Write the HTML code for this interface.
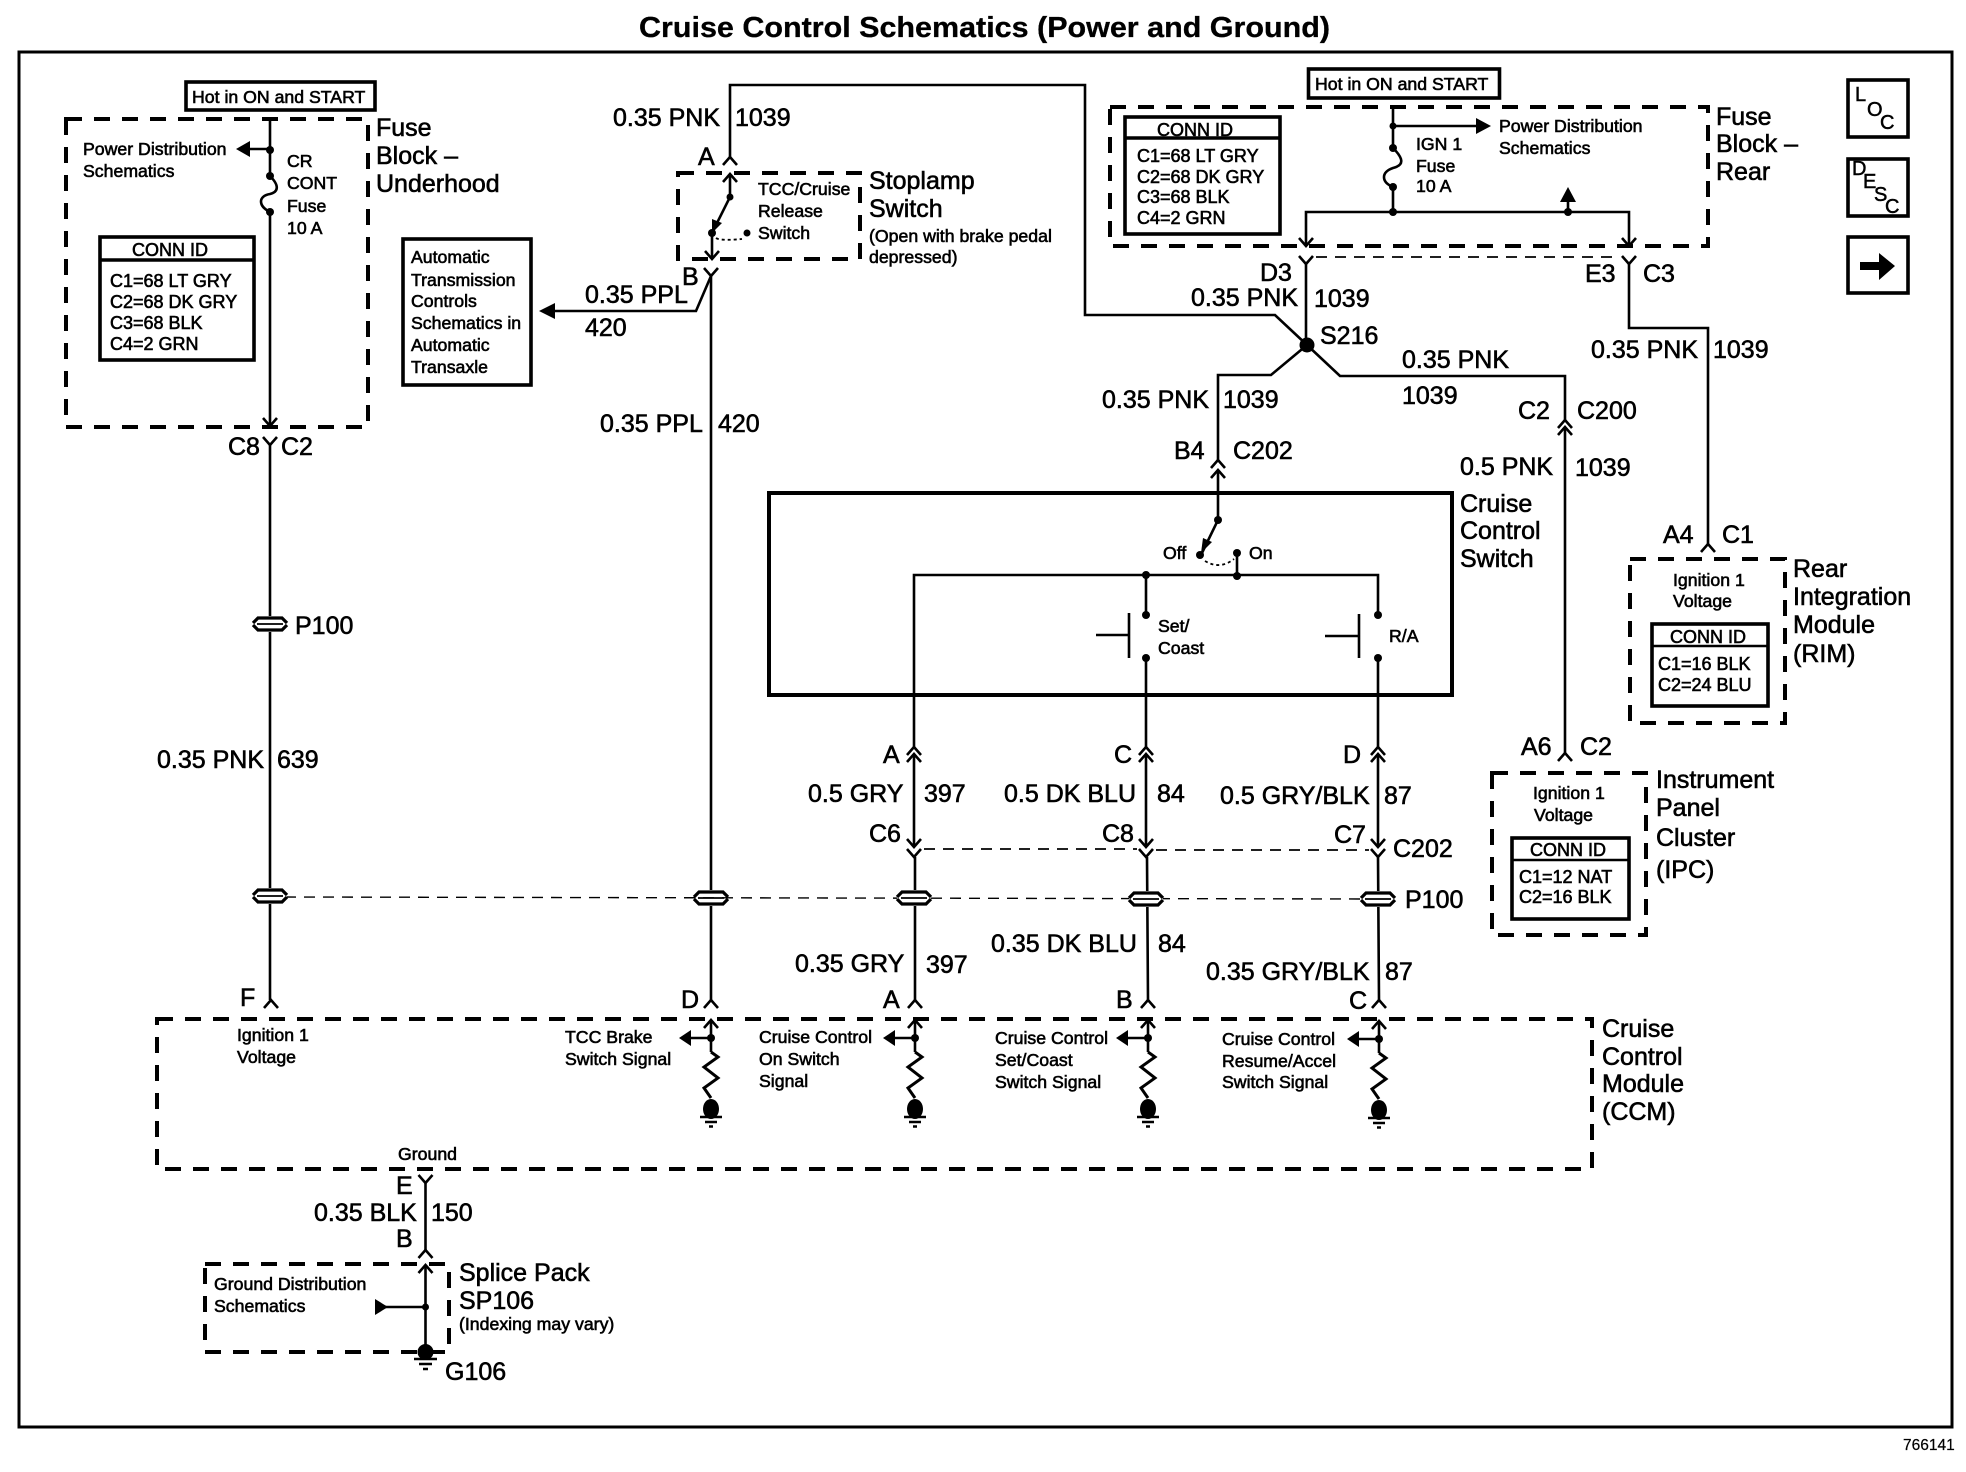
<!DOCTYPE html>
<html><head><meta charset="utf-8"><title>Cruise Control Schematics</title>
<style>
html,body{margin:0;padding:0;background:#fff}
svg{display:block}
text{font-family:"Liberation Sans",Arial,sans-serif;fill:#000;stroke:#000}
.l{font-size:25px;stroke-width:.6}
.s{font-size:17.7px;stroke-width:.6}
.c{font-size:18px;stroke-width:.6}
.g{font-size:20px;stroke-width:.5}
.w{fill:none;stroke:#000;stroke-width:2.6}
.b{fill:none;stroke:#000;stroke-width:3.6}
.d{fill:none;stroke:#000;stroke-width:4;stroke-dasharray:16 12}
.t{fill:none;stroke:#000;stroke-width:1.8;stroke-dasharray:11 8}
.k{fill:#000;stroke:none}
</style></head><body>
<svg width="1966" height="1472" viewBox="0 0 1966 1472" xmlns="http://www.w3.org/2000/svg">
<defs>
<g id="up"><path class="w" d="M-7,8 L0,0 L7,8"/></g>
<g id="dn"><path class="w" d="M-7,-8 L0,0 L7,-8"/></g>
<g id="y"><path class="w" d="M-7,-7 L0,1 L7,-7"/></g>
<g id="p100">
<rect x="-17" y="-8" width="34" height="16" fill="#fff"/>
<path fill="none" stroke="#000" stroke-width="3.2" d="M-17,-1 L-12,-6 L12,-6 L17,-1 M-17,1 L-12,6 L12,6 L17,1"/>
<path fill="none" stroke="#000" stroke-width="1.8" d="M-13,0 L13,0"/>
</g>
<g id="sig">
<path class="w" d="M0,-18 L0,14"/>
<path class="w" d="M-7,-10 L0,-18 L7,-10"/>
<circle class="k" cx="0" cy="0" r="4"/>
<path class="w" d="M-22,0 L0,0"/>
<path class="k" d="M-32,0 L-20,-8 L-20,8 Z"/>
<path fill="none" stroke="#000" stroke-width="3" d="M0,14 L7,19 L-7,29 L7,40 L-7,50 L0,60"/>
<ellipse class="k" cx="0" cy="71" rx="8" ry="10"/>
<path class="w" d="M-11,79 L11,79 M-6,84 L6,84 M-2,88.500 L2,88.500"/>
</g>
</defs>

<text x="639" y="37" font-size="29" font-weight="bold" textLength="691" lengthAdjust="spacingAndGlyphs" stroke-width=".3">Cruise Control Schematics (Power and Ground)</text>
<rect x="19" y="52" width="1933" height="1375" fill="none" stroke="#000" stroke-width="3"/>

<!-- Fuse block underhood -->
<rect x="186" y="82" width="189" height="28" class="b"/>
<text class="s" x="192" y="103">Hot in ON and START</text>
<rect x="66" y="119" width="302" height="308" class="d"/>
<path class="w" d="M270,119 L270,176 M270,212 L270,425"/>
<path class="w" d="M270,176 C280,186 278,192 270,194 C258,196 258,206 270,212"/>
<circle class="k" cx="270" cy="150" r="4"/><circle class="k" cx="270" cy="176" r="4"/><circle class="k" cx="270" cy="212" r="4"/>
<path class="w" d="M248,149 L270,149"/><path class="k" d="M236,149 L250,141 L250,157 Z"/>
<use href="#dn" x="270" y="426"/><use href="#y" x="270" y="444"/>
<text class="s" x="83" y="155">Power Distribution</text>
<text class="s" x="83" y="177">Schematics</text>
<text class="s" x="287" y="167">CR</text><text class="s" x="287" y="189">CONT</text>
<text class="s" x="287" y="212">Fuse</text><text class="s" x="287" y="234">10 A</text>
<rect x="100" y="237" width="154" height="123" class="b"/><path class="b" d="M100,260 L254,260"/>
<text class="c" x="132" y="256">CONN ID</text>
<text class="c" x="110" y="287">C1=68 LT GRY</text><text class="c" x="110" y="308">C2=68 DK GRY</text>
<text class="c" x="110" y="329">C3=68 BLK</text><text class="c" x="110" y="350">C4=2 GRN</text>
<text class="l" x="376" y="136">Fuse</text><text class="l" x="376" y="164">Block –</text><text class="l" x="376" y="192">Underhood</text>
<text class="l" x="228" y="455">C8</text><text class="l" x="281" y="455">C2</text>

<!-- Auto transmission box -->
<rect x="403" y="239" width="128" height="146" class="b"/>
<text class="s" x="411" y="263">Automatic</text><text class="s" x="411" y="286">Transmission</text>
<text class="s" x="411" y="307">Controls</text><text class="s" x="411" y="329">Schematics in</text>
<text class="s" x="411" y="351">Automatic</text><text class="s" x="411" y="373">Transaxle</text>
<path class="w" d="M711,276 L696,311 L550,311"/><path class="k" d="M539,311 L555,303 L555,319 Z"/>
<text class="l" x="585" y="303">0.35 PPL</text><text class="l" x="585" y="336">420</text>
<text class="l" x="600" y="432">0.35 PPL</text><text class="l" x="718" y="432">420</text>

<!-- Left wires -->
<path class="w" d="M270,445 L270,1000"/>
<use href="#p100" x="270" y="624"/>
<text class="l" x="295" y="634">P100</text>
<text class="l" x="157" y="768">0.35 PNK</text><text class="l" x="277" y="768">639</text>

<!-- Stoplamp switch -->
<text class="l" x="613" y="126">0.35 PNK</text><text class="l" x="735" y="126">1039</text>
<path class="w" d="M730,157 L730,85 L1085,85 L1085,315 L1275,315 L1307,345"/>
<use href="#up" x="730" y="157"/><text class="l" x="698" y="165">A</text>
<rect x="678" y="173" width="182" height="86" class="d"/>
<use href="#up" x="730" y="174"/>
<path class="w" d="M730,174 L730,197 L712,233 L712,258"/>
<path class="k" d="M712,233 L712,219 L722,223 Z"/>
<use href="#dn" x="712" y="259"/>
<circle class="k" cx="730" cy="197" r="3.500"/><circle class="k" cx="712" cy="233" r="4"/><circle class="k" cx="747" cy="233" r="3.500"/>
<path fill="none" stroke="#000" stroke-width="1.8" stroke-dasharray="3 3" d="M716,238 Q720,241 742,239"/>
<text class="s" x="758" y="195">TCC/Cruise</text><text class="s" x="758" y="217">Release</text><text class="s" x="758" y="239">Switch</text>
<text class="l" x="869" y="189">Stoplamp</text><text class="l" x="869" y="217">Switch</text>
<text class="s" x="869" y="242">(Open with brake pedal</text><text class="s" x="869" y="263">depressed)</text>
<use href="#y" x="711" y="275"/><text class="l" x="682" y="285">B</text>
<path class="w" d="M711,276 L711,1000"/>
<use href="#p100" x="711" y="898"/>

<!-- Fuse block rear -->
<rect x="1308.500" y="69" width="191" height="29" class="b"/>
<text class="s" x="1315" y="90">Hot in ON and START</text>
<rect x="1110" y="107" width="598" height="139" class="d"/>
<rect x="1125" y="117" width="155" height="117" class="b"/><path class="b" d="M1125,138 L1280,138"/>
<text class="c" x="1157" y="136">CONN ID</text>
<text class="c" x="1137" y="162">C1=68 LT GRY</text><text class="c" x="1137" y="183">C2=68 DK GRY</text>
<text class="c" x="1137" y="203">C3=68 BLK</text><text class="c" x="1137" y="224">C4=2 GRN</text>
<path class="w" d="M1393,107 L1393,148 M1393,187 L1393,212 M1306,245 L1306,212 L1629,212 L1629,245"/>
<path class="w" d="M1393,148 C1403,158 1405,165 1393,168 C1381,172 1381,182 1393,187"/>
<circle class="k" cx="1393" cy="126" r="3.500"/><circle class="k" cx="1393" cy="148" r="4"/><circle class="k" cx="1393" cy="187" r="4"/>
<circle class="k" cx="1393" cy="212" r="4"/><circle class="k" cx="1568" cy="212" r="4"/>
<path class="w" d="M1393,126 L1480,126"/><path class="k" d="M1491,126 L1476,118 L1476,134 Z"/>
<path class="w" d="M1568,212 L1568,198"/><path class="k" d="M1568,187 L1560,202 L1576,202 Z"/>
<use href="#dn" x="1306" y="246"/><use href="#dn" x="1629" y="246"/>
<text class="s" x="1499" y="132">Power Distribution</text><text class="s" x="1499" y="154">Schematics</text>
<text class="s" x="1416" y="150">IGN 1</text><text class="s" x="1416" y="172">Fuse</text><text class="s" x="1416" y="192">10 A</text>
<text class="l" x="1716" y="125">Fuse</text><text class="l" x="1716" y="152">Block –</text><text class="l" x="1716" y="180">Rear</text>

<!-- LOC DESC arrow -->
<rect x="1848" y="80" width="60" height="57" class="b"/>
<text class="g" x="1855" y="101">L</text><text class="g" x="1867" y="116">O</text><text class="g" x="1880" y="129">C</text>
<rect x="1848" y="159" width="60" height="57" class="b"/>
<text class="g" x="1852" y="175">D</text><text class="g" x="1863" y="188">E</text><text class="g" x="1874" y="201">S</text><text class="g" x="1885" y="213">C</text>
<rect x="1848" y="237" width="60" height="56" class="b"/>
<path class="k" d="M1860,262 L1879,262 L1879,253 L1895,266 L1879,280 L1879,270 L1860,270 Z"/>

<!-- Top connectors and S216 -->
<path class="t" d="M1316,257 L1620,257"/>
<use href="#y" x="1306" y="263"/><use href="#y" x="1629" y="263"/>
<path class="w" d="M1306,264 L1306,345"/>
<path class="w" d="M1629,264 L1629,328 L1708,328 L1708,545"/>
<text class="l" x="1260" y="281">D3</text><text class="l" x="1585" y="282">E3</text><text class="l" x="1643" y="282">C3</text>
<text class="l" x="1191" y="306">0.35 PNK</text><text class="l" x="1314" y="307">1039</text>
<circle class="k" cx="1307" cy="345" r="7.500"/>
<text class="l" x="1320" y="344">S216</text>
<path class="w" d="M1307,345 L1340,376 L1565,376 L1565,420"/>
<path class="w" d="M1307,345 L1271,375 L1218,375 L1218,460"/>
<text class="l" x="1402" y="368">0.35 PNK</text><text class="l" x="1402" y="404">1039</text>
<text class="l" x="1591" y="358">0.35 PNK</text><text class="l" x="1713" y="358">1039</text>
<text class="l" x="1102" y="408">0.35 PNK</text><text class="l" x="1223" y="408">1039</text>
<text class="l" x="1518" y="419">C2</text><text class="l" x="1577" y="419">C200</text>
<use href="#up" x="1565" y="420"/><use href="#up" x="1565" y="427"/>
<path class="w" d="M1565,427 L1565,753"/><use href="#up" x="1565" y="753"/>
<text class="l" x="1460" y="475">0.5 PNK</text><text class="l" x="1575" y="476">1039</text>
<text class="l" x="1174" y="459">B4</text><text class="l" x="1233" y="459">C202</text>
<use href="#up" x="1218" y="460"/><use href="#up" x="1218" y="470"/>

<!-- Cruise control switch -->
<rect x="769" y="493" width="683" height="202" fill="none" stroke="#000" stroke-width="4"/>
<text class="l" x="1460" y="512">Cruise</text><text class="l" x="1460" y="539">Control</text><text class="l" x="1460" y="567">Switch</text>
<path class="w" d="M1218,470 L1218,520 L1201,555"/>
<path class="k" d="M1201,553 L1203,538 L1212,542 Z"/>
<circle class="k" cx="1218" cy="520" r="4"/><circle class="k" cx="1200" cy="555" r="4"/><circle class="k" cx="1237" cy="553" r="4"/>
<path fill="none" stroke="#000" stroke-width="1.8" stroke-dasharray="3 3" d="M1205,561 Q1220,570 1234,559"/>
<text class="s" x="1163" y="559">Off</text><text class="s" x="1249" y="559">On</text>
<path class="w" d="M1237,553 L1237,575"/>
<path class="w" d="M914,747 L914,575 L1378,575 L1378,615"/>
<circle class="k" cx="1146" cy="575" r="4"/><circle class="k" cx="1237" cy="576" r="4"/>
<path class="w" d="M1146,575 L1146,615 M1146,658 L1146,747 M1378,658 L1378,747"/>
<circle class="k" cx="1146" cy="615" r="4"/><circle class="k" cx="1146" cy="658" r="4"/>
<circle class="k" cx="1378" cy="615" r="4"/><circle class="k" cx="1378" cy="658" r="4"/>
<path class="w" d="M1129,613 L1129,658 M1096,635 L1129,635 M1359,614 L1359,658 M1325,636 L1359,636"/>
<text class="s" x="1158" y="632">Set/</text><text class="s" x="1158" y="654">Coast</text>
<text class="s" x="1389" y="642">R/A</text>

<!-- C202 lower connectors -->
<use href="#up" x="914" y="747"/><use href="#up" x="914" y="754"/>
<use href="#up" x="1146" y="747"/><use href="#up" x="1146" y="754"/>
<use href="#up" x="1378" y="747"/><use href="#up" x="1378" y="754"/>
<path class="w" d="M914,754 L914,847 M1146,754 L1146,847 M1378,754 L1378,847"/>
<use href="#dn" x="914" y="847"/><use href="#dn" x="1146" y="847"/><use href="#dn" x="1378" y="847"/>
<use href="#y" x="914" y="856"/><use href="#y" x="1146" y="856"/><use href="#y" x="1378" y="856"/>
<path class="t" d="M924,849 L1137,849 M1156,850 L1369,850"/>
<path class="w" d="M915,857 L915,1000 M1147,857 L1148,1000 M1378,857 L1379,1000"/>
<text class="l" x="883" y="763">A</text><text class="l" x="1114" y="763">C</text><text class="l" x="1343" y="763">D</text>
<text class="l" x="808" y="802">0.5 GRY</text><text class="l" x="924" y="802">397</text>
<text class="l" x="1004" y="802">0.5 DK BLU</text><text class="l" x="1157" y="802">84</text>
<text class="l" x="1220" y="804">0.5 GRY/BLK</text><text class="l" x="1384" y="804">87</text>
<text class="l" x="869" y="842">C6</text><text class="l" x="1102" y="842">C8</text><text class="l" x="1334" y="843">C7</text>
<text class="l" x="1393" y="857">C202</text>

<!-- P100 row -->
<path class="t" stroke-dasharray="8 8" d="M285,897 L1365,899" style="stroke-width:1.4"/>
<use href="#p100" x="914" y="898"/><use href="#p100" x="1146" y="899"/><use href="#p100" x="1378" y="899"/>
<use href="#p100" x="270" y="896"/>
<text class="l" x="1405" y="908">P100</text>
<text class="l" x="795" y="972">0.35 GRY</text><text class="l" x="926" y="973">397</text>
<text class="l" x="991" y="952">0.35 DK BLU</text><text class="l" x="1158" y="952">84</text>
<text class="l" x="1206" y="980">0.35 GRY/BLK</text><text class="l" x="1385" y="980">87</text>

<!-- RIM -->
<use href="#up" x="1708" y="544"/>
<text class="l" x="1663" y="543">A4</text><text class="l" x="1722" y="543">C1</text>
<rect x="1630" y="559" width="155" height="164" class="d"/>
<text class="s" x="1673" y="586">Ignition 1</text><text class="s" x="1673" y="607">Voltage</text>
<rect x="1652" y="624" width="116" height="82" class="b"/><path class="w" d="M1652,646 L1768,646"/>
<text class="c" x="1670" y="643">CONN ID</text>
<text class="c" x="1658" y="670">C1=16 BLK</text><text class="c" x="1658" y="691">C2=24 BLU</text>
<text class="l" x="1793" y="577">Rear</text><text class="l" x="1793" y="605">Integration</text>
<text class="l" x="1793" y="633">Module</text><text class="l" x="1793" y="662">(RIM)</text>

<!-- IPC -->
<text class="l" x="1521" y="755">A6</text><text class="l" x="1580" y="755">C2</text>
<rect x="1492" y="773" width="154" height="162" class="d"/>
<text class="s" x="1533" y="799">Ignition 1</text><text class="s" x="1534" y="821">Voltage</text>
<rect x="1512" y="838" width="117" height="81" class="b"/><path class="w" d="M1512,860 L1629,860"/>
<text class="c" x="1530" y="856">CONN ID</text>
<text class="c" x="1519" y="883">C1=12 NAT</text><text class="c" x="1519" y="903">C2=16 BLK</text>
<text class="l" x="1656" y="788">Instrument</text><text class="l" x="1656" y="816">Panel</text>
<text class="l" x="1656" y="846">Cluster</text><text class="l" x="1656" y="878">(IPC)</text>

<!-- CCM -->
<rect x="157" y="1019" width="1435" height="150" class="d"/>
<use href="#up" x="271" y="1000"/><use href="#up" x="711" y="1000"/><use href="#up" x="915" y="1000"/><use href="#up" x="1148" y="1000"/><use href="#up" x="1379" y="1000"/>
<text class="l" x="240" y="1006">F</text><text class="l" x="681" y="1008">D</text><text class="l" x="883" y="1008">A</text><text class="l" x="1116" y="1008">B</text><text class="l" x="1349" y="1009">C</text>
<text class="s" x="237" y="1041">Ignition 1</text><text class="s" x="237" y="1063">Voltage</text>
<use href="#sig" x="711" y="1038"/><use href="#sig" x="915" y="1038"/><use href="#sig" x="1148" y="1038"/><use href="#sig" x="1379" y="1039"/>
<text class="s" x="565" y="1043">TCC Brake</text><text class="s" x="565" y="1065">Switch Signal</text>
<text class="s" x="759" y="1043">Cruise Control</text><text class="s" x="759" y="1065">On Switch</text><text class="s" x="759" y="1087">Signal</text>
<text class="s" x="995" y="1044">Cruise Control</text><text class="s" x="995" y="1066">Set/Coast</text><text class="s" x="995" y="1088">Switch Signal</text>
<text class="s" x="1222" y="1045">Cruise Control</text><text class="s" x="1222" y="1067">Resume/Accel</text><text class="s" x="1222" y="1088">Switch Signal</text>
<text class="l" x="1602" y="1037">Cruise</text><text class="l" x="1602" y="1065">Control</text><text class="l" x="1602" y="1092">Module</text><text class="l" x="1602" y="1120">(CCM)</text>
<text class="s" x="398" y="1160">Ground</text>

<!-- Ground section -->
<use href="#y" x="425.500" y="1182"/>
<path class="w" d="M425.500,1183 L425.500,1250"/><use href="#up" x="425.500" y="1250"/>
<text class="l" x="396" y="1194">E</text><text class="l" x="396" y="1247">B</text>
<text class="l" x="314" y="1221">0.35 BLK</text><text class="l" x="431" y="1221">150</text>
<rect x="205" y="1264" width="244" height="88" class="d"/>
<use href="#up" x="425.500" y="1265"/>
<path class="w" d="M425.500,1265 L425.500,1352 M385,1307 L425.500,1307"/>
<path class="k" d="M388,1307 L375,1299 L375,1315 Z"/>
<circle class="k" cx="425.500" cy="1307" r="3.500"/>
<ellipse class="k" cx="425.500" cy="1352" rx="8" ry="8"/>
<path class="w" d="M414,1359 L437,1359 M419,1364 L432,1364 M423,1369 L428,1369"/>
<text class="s" x="214" y="1290">Ground Distribution</text><text class="s" x="214" y="1312">Schematics</text>
<text class="l" x="459" y="1281">Splice Pack</text><text class="l" x="459" y="1309">SP106</text>
<text class="s" x="459" y="1330">(Indexing may vary)</text>
<text class="l" x="445" y="1380">G106</text>

<text x="1903" y="1450" font-size="15.500" stroke-width=".2">766141</text>
</svg>
</body></html>
